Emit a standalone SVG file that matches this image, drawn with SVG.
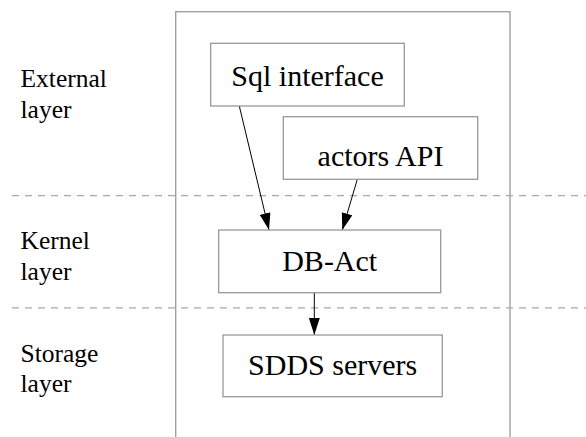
<svg xmlns="http://www.w3.org/2000/svg" width="586" height="437" viewBox="0 0 586 437">
  <defs>
    <style>
      .frame { fill: none; stroke: #a0a0a0; stroke-width: 1.4; }
      .box { fill: #ffffff; stroke: #999999; stroke-width: 1.3; }
      .sep { fill: none; stroke: #a8a8a8; stroke-width: 1.3; stroke-dasharray: 7 6; }
      .edge { fill: none; stroke: #000000; stroke-width: 1; }
      text { font-family: Liberation Serif, Tinos, Times New Roman, Times, DejaVu Serif, Noto Serif, serif; }
      .label { font-size: 30px; fill: #000000; text-anchor: middle; }
      .layer { font-size: 25.5px; fill: #000000; }
    </style>
    <marker id="arrow" viewBox="0 0 17 11" refX="17" refY="5.5" markerWidth="17" markerHeight="11" markerUnits="userSpaceOnUse" orient="auto">
      <path d="M0,0 L17,5.5 L0,11 Z" fill="#000000"/>
    </marker>
  </defs>

  <rect width="586" height="437" fill="#ffffff"/>

  <!-- system frame -->
  <rect class="frame" x="175.7" y="11.7" width="334.3" height="440"/>

  <!-- layer separators -->
  <line class="sep" x1="12" y1="195.7" x2="586" y2="195.7"/>
  <line class="sep" x1="12" y1="307.8" x2="586" y2="307.8"/>

  <!-- layer names -->
  <g id="layer-external">
    <text class="layer" x="20.5" y="86.5">External</text>
    <text class="layer" x="20.5" y="118">layer</text>
  </g>
  <g id="layer-kernel">
    <text class="layer" x="20.5" y="249">Kernel</text>
    <text class="layer" x="20.5" y="280">layer</text>
  </g>
  <g id="layer-storage">
    <text class="layer" x="20.5" y="361.5">Storage</text>
    <text class="layer" x="20.5" y="392">layer</text>
  </g>

  <!-- connectors -->
  <g id="connectors">
    <line class="edge" x1="239.3" y1="106" x2="269" y2="230" marker-end="url(#arrow)"/>
    <line class="edge" x1="357.3" y1="179.3" x2="342.3" y2="230" marker-end="url(#arrow)"/>
    <line class="edge" x1="314.3" y1="292.7" x2="314.3" y2="335" marker-end="url(#arrow)"/>
  </g>

  <!-- components -->
  <g id="sql-interface">
    <rect class="box" x="210.7" y="43.3" width="193.6" height="62.7"/>
    <text class="label" x="307.5" y="86">Sql interface</text>
  </g>
  <g id="actors-api">
    <rect class="box" x="283.3" y="116.7" width="194.4" height="62.6"/>
    <text class="label" x="380.5" y="166">actors API</text>
  </g>
  <g id="db-act">
    <rect class="box" x="218.7" y="230" width="222" height="62.7"/>
    <text class="label" x="329.7" y="270.7">DB-Act</text>
  </g>
  <g id="sdds-servers">
    <rect class="box" x="223" y="335" width="219.3" height="61.7"/>
    <text class="label" x="332.7" y="375">SDDS servers</text>
  </g>
</svg>
